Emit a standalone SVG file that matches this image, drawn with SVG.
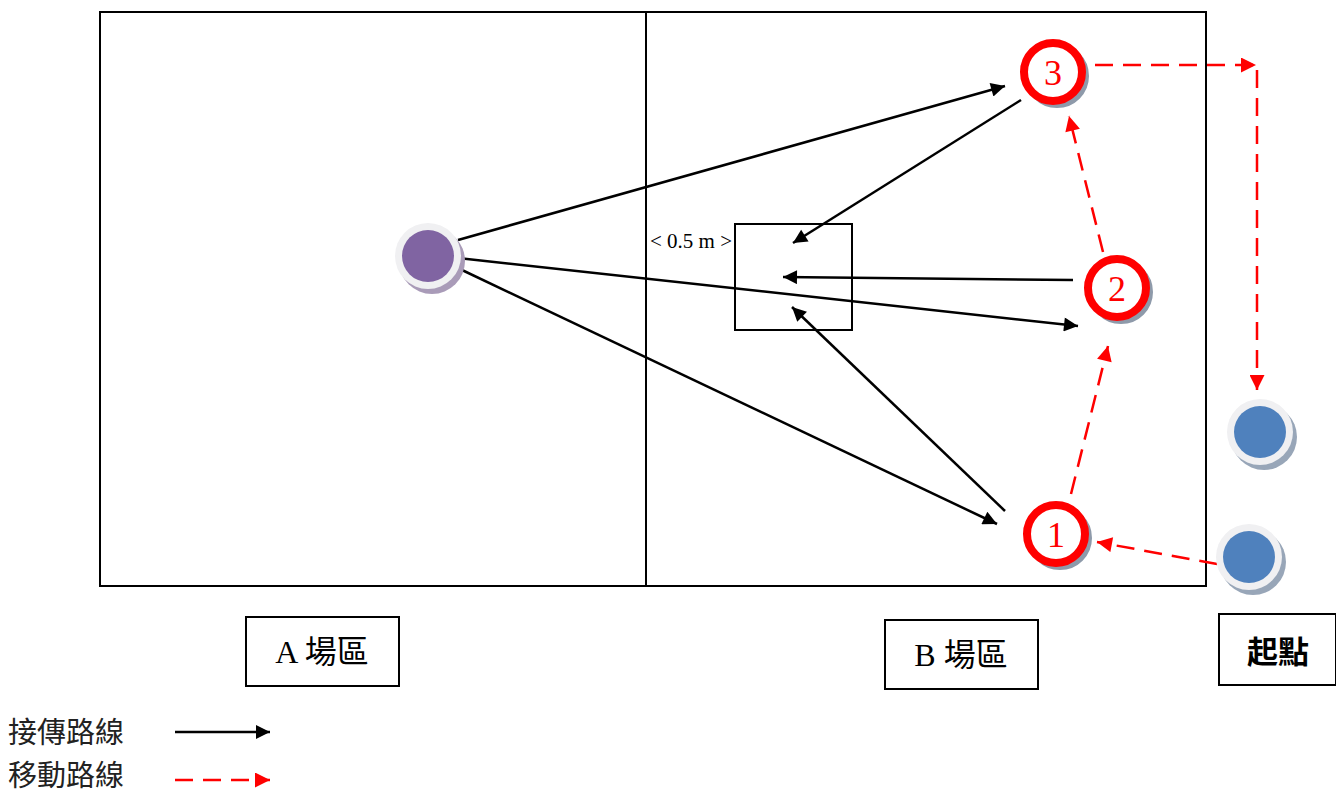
<svg xmlns="http://www.w3.org/2000/svg" width="1336" height="794" viewBox="0 0 1336 794">
<style>
.ln{fill:none;stroke:#000;stroke-width:2}
.pass{fill:none;stroke:#000;stroke-width:2.5;marker-end:url(#ab)}
.move{fill:none;stroke:#f00;stroke-width:2.5;stroke-dasharray:18 10;marker-end:url(#ar)}
.ring{fill:#fff;stroke:#f00;stroke-width:8}
.rsh{fill:none;stroke:#8e9aaa;stroke-width:6}
.num{font-family:"Liberation Serif","Noto Sans CJK TC",serif;font-size:36px;fill:#f00;text-anchor:middle}
.lbl{font-family:"Liberation Serif","Noto Sans CJK TC",serif;font-size:32px;fill:#000;text-anchor:middle}
.leg{font-family:"Noto Sans CJK TC",sans-serif;font-size:29px;fill:#222}
.box{fill:#fff;stroke:#000;stroke-width:2}
</style>
<defs>
<marker id="ab" viewBox="0 0 10 10" refX="10" refY="5" markerWidth="18" markerHeight="14" markerUnits="userSpaceOnUse" orient="auto"><path d="M0,0 L10,5 L0,10 z" fill="#000"/></marker>
<marker id="ar" viewBox="0 0 10 10" refX="10" refY="5" markerWidth="18" markerHeight="15" markerUnits="userSpaceOnUse" orient="auto"><path d="M0,0 L10,5 L0,10 z" fill="#f00"/></marker>
</defs>
<rect width="1336" height="794" fill="#fff"/>
<g id="court">
<rect class="ln" x="100" y="12" width="1106" height="574"/>
<line class="ln" x1="646" y1="12" x2="646" y2="586"/>
</g>
<g id="zone">
<rect class="ln" x="735" y="224" width="117" height="106"/>
<text x="691" y="248" font-family="Liberation Serif,serif" font-size="21" text-anchor="middle">&lt; 0.5 m &gt;</text>
</g>
<g id="connectors">
<line class="pass" x1="458" y1="240" x2="1005" y2="86"/>
<line class="pass" x1="458" y1="258" x2="1078" y2="326"/>
<line class="pass" x1="462" y1="270" x2="997" y2="524"/>
<line class="pass" x1="1021" y1="100" x2="793" y2="243"/>
<line class="pass" x1="1073" y1="280" x2="783" y2="277"/>
<line class="pass" x1="1005" y1="511" x2="792" y2="307"/>
<line class="move" x1="1217" y1="564" x2="1097" y2="542"/>
<line class="move" x1="1071" y1="494" x2="1108" y2="346"/>
<line class="move" x1="1103" y1="252" x2="1069" y2="116"/>
<line class="move" x1="1095" y1="65" x2="1256" y2="65"/>
<line class="move" x1="1257" y1="70" x2="1257" y2="390"/>
</g>
<g id="playerA">
<circle cx="432" cy="261" r="33" fill="#a99bb8"/>
<circle cx="428" cy="256" r="33" fill="#f0f0f2"/>
<circle cx="428" cy="256" r="26" fill="#8064a2"/>
</g>
<g id="pos3">
<circle class="rsh" cx="1057" cy="76" r="29"/>
<circle class="ring" cx="1053" cy="72" r="29"/>
<text class="num" x="1053" y="85">3</text>
</g>
<g id="pos2">
<circle class="rsh" cx="1121" cy="292" r="29"/>
<circle class="ring" cx="1117" cy="288" r="29"/>
<text class="num" x="1117" y="301">2</text>
</g>
<g id="pos1">
<circle class="rsh" cx="1060" cy="538" r="29"/>
<circle class="ring" cx="1056" cy="534" r="29"/>
<text class="num" x="1056" y="547">1</text>
</g>
<g id="playerB1">
<circle cx="1264" cy="437" r="33" fill="#98a6b8"/>
<circle cx="1260" cy="432" r="33" fill="#f0f0f2"/>
<circle cx="1260" cy="432" r="26" fill="#4f81bd"/>
</g>
<g id="playerB2">
<circle cx="1253" cy="562" r="33" fill="#98a6b8"/>
<circle cx="1249" cy="557" r="33" fill="#f0f0f2"/>
<circle cx="1249" cy="557" r="26" fill="#4f81bd"/>
</g>
<g id="labelA">
<rect class="box" x="246" y="617" width="153" height="69"/>
<text class="lbl" x="322" y="663">A 場區</text>
</g>
<g id="labelB">
<rect class="box" x="885" y="620" width="153" height="69"/>
<text class="lbl" x="961" y="666">B 場區</text>
</g>
<g id="labelStart">
<rect class="box" x="1219" y="614" width="117" height="71"/>
<text x="1278" y="663" font-family="Noto Sans CJK TC,sans-serif" font-size="31" font-weight="600" text-anchor="middle">起點</text>
</g>
<g id="legend">
<text class="leg" x="8" y="743">接傳路線</text>
<line x1="175" y1="732" x2="270" y2="732" stroke="#000" stroke-width="2.5" marker-end="url(#ab)"/>
<text class="leg" x="8" y="786">移動路線</text>
<line x1="175" y1="780" x2="270" y2="780" stroke="#f00" stroke-width="2.5" stroke-dasharray="18 10" marker-end="url(#ar)"/>
</g>
</svg>
